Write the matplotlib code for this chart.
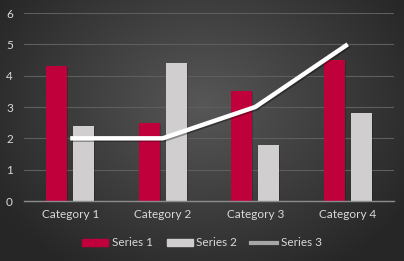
import numpy as np
import matplotlib
matplotlib.use("Agg")
import matplotlib.pyplot as plt
import matplotlib.patheffects as pe
from matplotlib.lines import Line2D
from matplotlib.patches import Patch

categories = ["Category 1", "Category 2", "Category 3", "Category 4"]
series1 = [4.3, 2.5, 3.5, 4.5]
series2 = [2.4, 4.4, 1.8, 2.8]
series3 = [2, 2, 3, 5]
series_names = ["Series 1", "Series 2", "Series 3"]
yticks = [0, 1, 2, 3, 4, 5, 6]

c1 = "#C0003A"
c2 = "#D0CECF"
c3 = "#FFFFFF"
txt = "#D9D9D9"

plt.rcParams['font.family'] = ['Lato', 'DejaVu Sans']

W, H = 404, 261
fig = plt.figure(figsize=(W / 100, H / 100), dpi=100)

# radial gradient background
bg = fig.add_axes([0, 0, 1, 1], zorder=-10)
yy, xx = np.mgrid[0:H, 0:W]
d = np.sqrt(((xx - W * 0.5) / (W * 0.6)) ** 2 + ((yy - H * 0.4) / (H * 0.75)) ** 2)
d = np.clip(d, 0, 1)
inner = np.array([0x57, 0x57, 0x57]) / 255
outer = np.array([0x26, 0x26, 0x26]) / 255
img = inner[None, None, :] * (1 - d[..., None]) + outer[None, None, :] * d[..., None]
bg.imshow(img, aspect='auto', extent=[0, 1, 0, 1])
bg.axis('off')

ax = fig.add_axes([24 / W, (H - 201) / H, 370 / W, 188 / H])
ax.set_facecolor('none')

x = np.arange(len(categories))
bw = 0.228
off = 0.146
shadow = [pe.withSimplePatchShadow(offset=(0.8, -0.8), shadow_rgbFace='black', alpha=0.2)]
b1 = ax.bar(x - off, series1, width=bw, color=c1, zorder=2, path_effects=shadow)
b2 = ax.bar(x + off, series2, width=bw, color=c2, zorder=2, path_effects=shadow)
ax.plot(x, series3, color=c3, lw=3.2, zorder=3, solid_capstyle='butt',
        path_effects=[pe.SimpleLineShadow(offset=(1, -1), shadow_color='black', alpha=0.35), pe.Normal()])

ax.set_xlim(-0.5, 3.5)
ax.set_ylim(0, 6)
ax.set_yticks(yticks)
ax.set_xticks(x)
ax.set_xticklabels(categories)
ax.grid(axis='y', color='#5E5E5E', lw=0.8, zorder=0)
ax.tick_params(axis='both', length=0, colors=txt, labelsize=8.5)
ax.tick_params(axis='y', pad=8)
ax.tick_params(axis='x', pad=6)
for s in ['top', 'right', 'left']:
    ax.spines[s].set_visible(False)
ax.spines['bottom'].set_color('#8C8C8C')
ax.spines['bottom'].set_linewidth(1.0)

handles = [Patch(color=c1), Patch(color=c2), Line2D([], [], color='#A6A6A6', lw=3)]
leg = fig.legend(handles, series_names, loc='center', bbox_to_anchor=(0.5, (H - 243) / H),
                 ncol=3, frameon=False, fontsize=8.5, labelcolor=txt,
                 handlelength=2.2, handleheight=0.55, handletextpad=0.3, columnspacing=1.2)

fig.savefig("out.png", dpi=100)
